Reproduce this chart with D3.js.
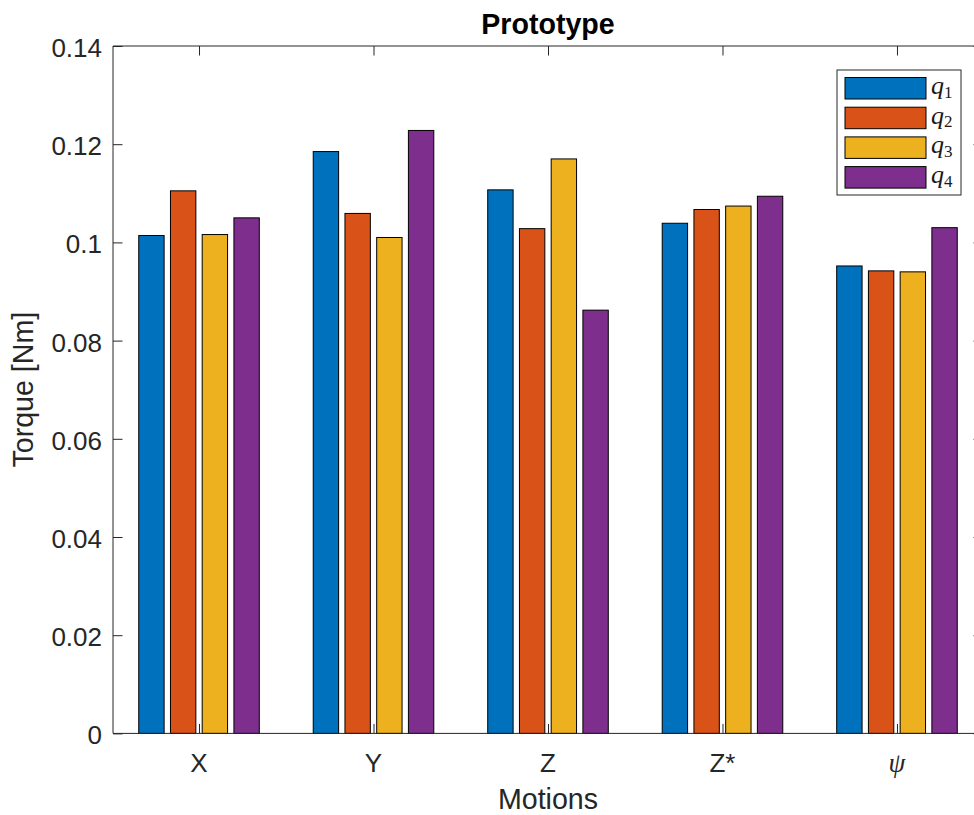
<!DOCTYPE html>
<html>
<head>
<meta charset="utf-8">
<script src="https://cdn.jsdelivr.net/npm/d3@7"></script>
<style>
  html, body { margin: 0; padding: 0; background: #fff; }
  svg { display: block; }
</style>
</head>
<body>
<svg id="chart" width="974" height="815"></svg>
<script>
// Joint torques per motion, one series per joint
const motions = ["X", "Y", "Z", "Z*", "\u03C8"];
const seriesNames = ["1", "2", "3", "4"];
const q1 = [0.1014, 0.1185, 0.1107, 0.1039, 0.0952];
const q2 = [0.1105, 0.1059, 0.1028, 0.1067, 0.0942];
const q3 = [0.1016, 0.1010, 0.1170, 0.1074, 0.0940];
const q4 = [0.1050, 0.1228, 0.0862, 0.1094, 0.1030];
const yTicks = [0, 0.02, 0.04, 0.06, 0.08, 0.1, 0.12, 0.14];
const colors = ["#0072BD", "#D95319", "#EDB120", "#7E2F8E"];

const series = [q1, q2, q3, q4];
const axisColor = "#262626";
const sans = "'Liberation Sans', Arial, Helvetica, sans-serif";
const serif = "'Liberation Serif', 'Times New Roman', serif";

const svg = d3.select("#chart");

const plotLeft = 113, plotRight = 983, plotTop = 46, plotBottom = 733.4;

// category index positions (1..5)
const x = d3.scaleLinear().domain([0.507, 5.493]).range([plotLeft, plotRight]);
const y = d3.scaleLinear().domain([0, 0.14]).range([plotBottom, plotTop]);

const nSeries = series.length;
const groupWidth = Math.min(0.8, nSeries / (nSeries + 1.5));
const slot = groupWidth / nSeries;
const barW = slot * 0.8;

// bars
series.forEach((vals, si) => {
  const offset = -groupWidth / 2 + slot * (si + 0.5);
  svg.append("g").selectAll("rect")
    .data(vals)
    .join("rect")
    .attr("x", (d, i) => x(i + 1 + offset - barW / 2))
    .attr("width", (d, i) => x(i + 1 + offset + barW / 2) - x(i + 1 + offset - barW / 2))
    .attr("y", d => y(d))
    .attr("height", d => y(0) - y(d))
    .attr("fill", colors[si])
    .attr("stroke", "#000")
    .attr("stroke-width", 1);
});

// axes box
const tickLen = 9.5;
const frame = svg.append("g").attr("stroke", axisColor).attr("fill", "none").attr("stroke-width", 1);
frame.append("line").attr("x1", plotLeft).attr("x2", plotRight).attr("y1", plotBottom).attr("y2", plotBottom);
frame.append("line").attr("x1", plotLeft).attr("x2", plotRight).attr("y1", plotTop).attr("y2", plotTop);
frame.append("line").attr("x1", plotLeft).attr("x2", plotLeft).attr("y1", plotTop).attr("y2", plotBottom);
frame.append("line").attr("x1", plotRight).attr("x2", plotRight).attr("y1", plotTop).attr("y2", plotBottom);

// y ticks (inward on both sides)
const yAxisL = d3.axisRight(y).tickValues(yTicks).tickSize(tickLen).tickFormat("");
const gyl = svg.append("g").attr("transform", `translate(${plotLeft},0)`).call(yAxisL);
const yAxisR = d3.axisLeft(y).tickValues(yTicks).tickSize(tickLen).tickFormat("");
const gyr = svg.append("g").attr("transform", `translate(${plotRight},0)`).call(yAxisR);
[gyl, gyr].forEach(g => {
  g.select(".domain").remove();
  g.selectAll(".tick line").attr("stroke", axisColor);
});

// y tick labels
svg.append("g").selectAll("text")
  .data(yTicks)
  .join("text")
  .attr("x", 102)
  .attr("y", d => y(d))
  .attr("dy", "0.42em")
  .attr("text-anchor", "end")
  .attr("font-family", sans)
  .attr("font-size", 26)
  .attr("fill", axisColor)
  .text(d => String(+d.toFixed(2)));

// x ticks (inward on bottom and top)
const idx = motions.map((m, i) => i + 1);
const xAxisB = d3.axisTop(x).tickValues(idx).tickSize(tickLen).tickFormat("");
const gxb = svg.append("g").attr("transform", `translate(0,${plotBottom})`).call(xAxisB);
const xAxisT = d3.axisBottom(x).tickValues(idx).tickSize(tickLen).tickFormat("");
const gxt = svg.append("g").attr("transform", `translate(0,${plotTop})`).call(xAxisT);
[gxb, gxt].forEach(g => {
  g.select(".domain").remove();
  g.selectAll(".tick line").attr("stroke", axisColor);
});

// x tick labels
svg.append("g").selectAll("text")
  .data(motions)
  .join("text")
  .attr("x", (d, i) => x(i + 1))
  .attr("y", 772)
  .attr("text-anchor", "middle")
  .attr("font-family", d => d === "\u03C8" ? serif : sans)
  .attr("font-style", d => d === "\u03C8" ? "italic" : "normal")
  .attr("font-size", d => d === "\u03C8" ? 27 : 26)
  .attr("fill", axisColor)
  .text(d => d);

// axis labels
svg.append("text")
  .attr("x", (plotLeft + plotRight) / 2)
  .attr("y", 809)
  .attr("text-anchor", "middle")
  .attr("font-family", sans)
  .attr("font-size", 28.6)
  .attr("fill", axisColor)
  .text("Motions");

svg.append("text")
  .attr("transform", `translate(33,${(plotTop + plotBottom) / 2}) rotate(-90)`)
  .attr("text-anchor", "middle")
  .attr("font-family", sans)
  .attr("font-size", 28.6)
  .attr("fill", axisColor)
  .text("Torque [Nm]");

// title
svg.append("text")
  .attr("x", (plotLeft + plotRight) / 2)
  .attr("y", 34.3)
  .attr("text-anchor", "middle")
  .attr("font-family", sans)
  .attr("font-weight", "bold")
  .attr("font-size", 28.6)
  .attr("fill", "#000")
  .text("Prototype");

// legend
const legend = svg.append("g");
legend.append("rect")
  .attr("x", 837).attr("y", 70)
  .attr("width", 124).attr("height", 125)
  .attr("fill", "#fff")
  .attr("stroke", axisColor)
  .attr("stroke-width", 1);

const item = legend.selectAll("g.item")
  .data(seriesNames)
  .join("g")
  .attr("class", "item")
  .attr("transform", (d, i) => `translate(0,${77.5 + i * 29.7})`);

item.append("rect")
  .attr("x", 845).attr("y", 0)
  .attr("width", 81).attr("height", 21.5)
  .attr("fill", (d, i) => colors[i])
  .attr("stroke", "#000")
  .attr("stroke-width", 1);

const lbl = item.append("text")
  .attr("x", 931)
  .attr("y", 16.5)
  .attr("font-family", serif)
  .attr("fill", "#1a1a1a");
lbl.append("tspan")
  .attr("font-style", "italic")
  .attr("font-size", 26)
  .text("q");
lbl.append("tspan")
  .attr("font-size", 17)
  .attr("dy", 3.5)
  .text(d => d);
</script>
</body>
</html>
